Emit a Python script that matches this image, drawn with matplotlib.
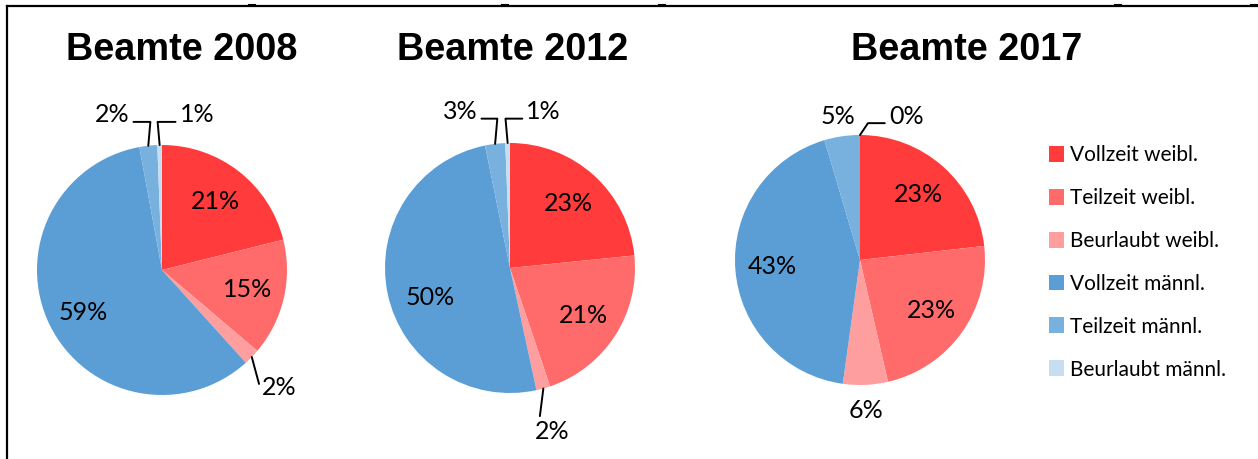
import numpy as np
import matplotlib
matplotlib.use("Agg")
import matplotlib.pyplot as plt
from matplotlib.lines import Line2D

# ---------------- data ----------------
categories = ["Vollzeit weibl.", "Teilzeit weibl.", "Beurlaubt weibl.",
              "Vollzeit männl.", "Teilzeit männl.", "Beurlaubt männl."]
titles = ["Beamte 2008", "Beamte 2012", "Beamte 2017"]
shares_2008 = [21.1, 15.1, 2.1, 58.8, 2.3, 0.6]
shares_2012 = [23.4, 21.4, 1.8, 50.2, 2.6, 0.6]
shares_2017 = [23.2, 23.2, 5.8, 43.2, 4.6, 0.0]
series = [shares_2008, shares_2012, shares_2017]

colors = ["#FF3B3B", "#FF6B6B", "#FF9E9E", "#5B9ED5", "#78B0DE", "#C7DEF2"]

# ---------------- layout ----------------
W, H = 1258, 459
R_PX = 125
centers_px = [(162, 270), (510, 268), (860, 260)]
title_pos_px = [(182, 50), (513, 50), (967, 50)]
# per-pie outside label placement: index -> (x, y, relpos, connection or None)
outside = [
    {2: (0.94, -0.94, (0.0, 0.15), "arc3"),
     4: (-0.40, 1.24, (1.0, 0.2), "angle,angleA=0,angleB=85,rad=0"),
     5: (0.28, 1.24, (0.0, 0.2), "angle,angleA=0,angleB=95,rad=0")},
    {2: (0.34, -1.31, (0.12, 1.0), "arc3"),
     4: (-0.40, 1.25, (1.0, 0.2), "angle,angleA=0,angleB=85,rad=0"),
     5: (0.27, 1.25, (0.0, 0.2), "angle,angleA=0,angleB=95,rad=0")},
    {2: (0.05, -1.20, None, None),
     4: (-0.18, 1.15, None, None),
     5: (0.37, 1.15, (0.0, 0.2), "angle,angleA=0,angleB=56,rad=0")},
]
# small nudges of inside labels (pie, slice) -> (dx, dy) in radius units
nudge = {(1, 3): (0.05, -0.09), (0, 3): (0.0, -0.03)}
HALF = 1.6

label_font = "Lato"
fig = plt.figure(figsize=(W / 100, H / 100), dpi=100)

first_wedges = None
for i, (vals, (cx, cy)) in enumerate(zip(series, centers_px)):
    half_px = HALF * R_PX
    ax = fig.add_axes([(cx - half_px) / W, (H - cy - half_px) / H,
                       2 * half_px / W, 2 * half_px / H])
    wedges, _ = ax.pie(vals, colors=colors, startangle=90, counterclock=False,
                       radius=1.0, wedgeprops=dict(linewidth=0))
    if first_wedges is None:
        first_wedges = wedges
    ax.set_xlim(-HALF, HALF)
    ax.set_ylim(-HALF, HALF)
    ax.set_aspect("equal")
    ax.axis("off")
    for j, (w, v) in enumerate(zip(wedges, vals)):
        mid = np.deg2rad((w.theta1 + w.theta2) / 2)
        txt = f"{v:.0f}%"
        if j in outside[i]:
            tx, ty, rel, conn = outside[i][j]
            if conn is None:
                ax.text(tx, ty, txt, ha="center", va="center", fontsize=18,
                        family=label_font, color="black")
            else:
                ax.annotate(txt, xy=(np.cos(mid), np.sin(mid)), xytext=(tx, ty),
                            ha="center", va="center", fontsize=18, family=label_font,
                            arrowprops=dict(arrowstyle="-", color="black", lw=1.4,
                                            shrinkA=1, shrinkB=0, relpos=rel,
                                            connectionstyle=conn))
        else:
            dx, dy = nudge.get((i, j), (0.0, 0.0))
            ax.text(0.7 * np.cos(mid) + dx, 0.7 * np.sin(mid) + dy, txt, ha="center",
                    va="center", fontsize=18, family=label_font, color="black")

for t, (tx, ty) in zip(titles, title_pos_px):
    fig.text(tx / W, 1 - ty / H, t, ha="center", va="center", fontsize=27.3,
             fontweight="bold", family="Liberation Sans")

fig.legend(first_wedges, categories, loc="upper left",
           bbox_to_anchor=(1049 / W, 1 - 145 / H), frameon=False,
           prop=dict(family=label_font, size=15), handlelength=0.7,
           handleheight=0.8, handletextpad=0.3, labelspacing=1.1,
           borderaxespad=0, borderpad=0)

# frame lines
lw = 1.6
fig.add_artist(Line2D([7 / W, 7 / W], [0, 1 - 6 / H], color="black", lw=lw))
fig.add_artist(Line2D([7 / W, 1], [1 - 6 / H, 1 - 6 / H], color="black", lw=lw))
for xp in [252, 505, 662, 1118, 1254]:
    fig.add_artist(Line2D([(xp - 3) / W, (xp + 3) / W], [1 - 4.5 / H, 1 - 4.5 / H],
                          color="black", lw=1.5))

fig.savefig("out.png", dpi=100)
